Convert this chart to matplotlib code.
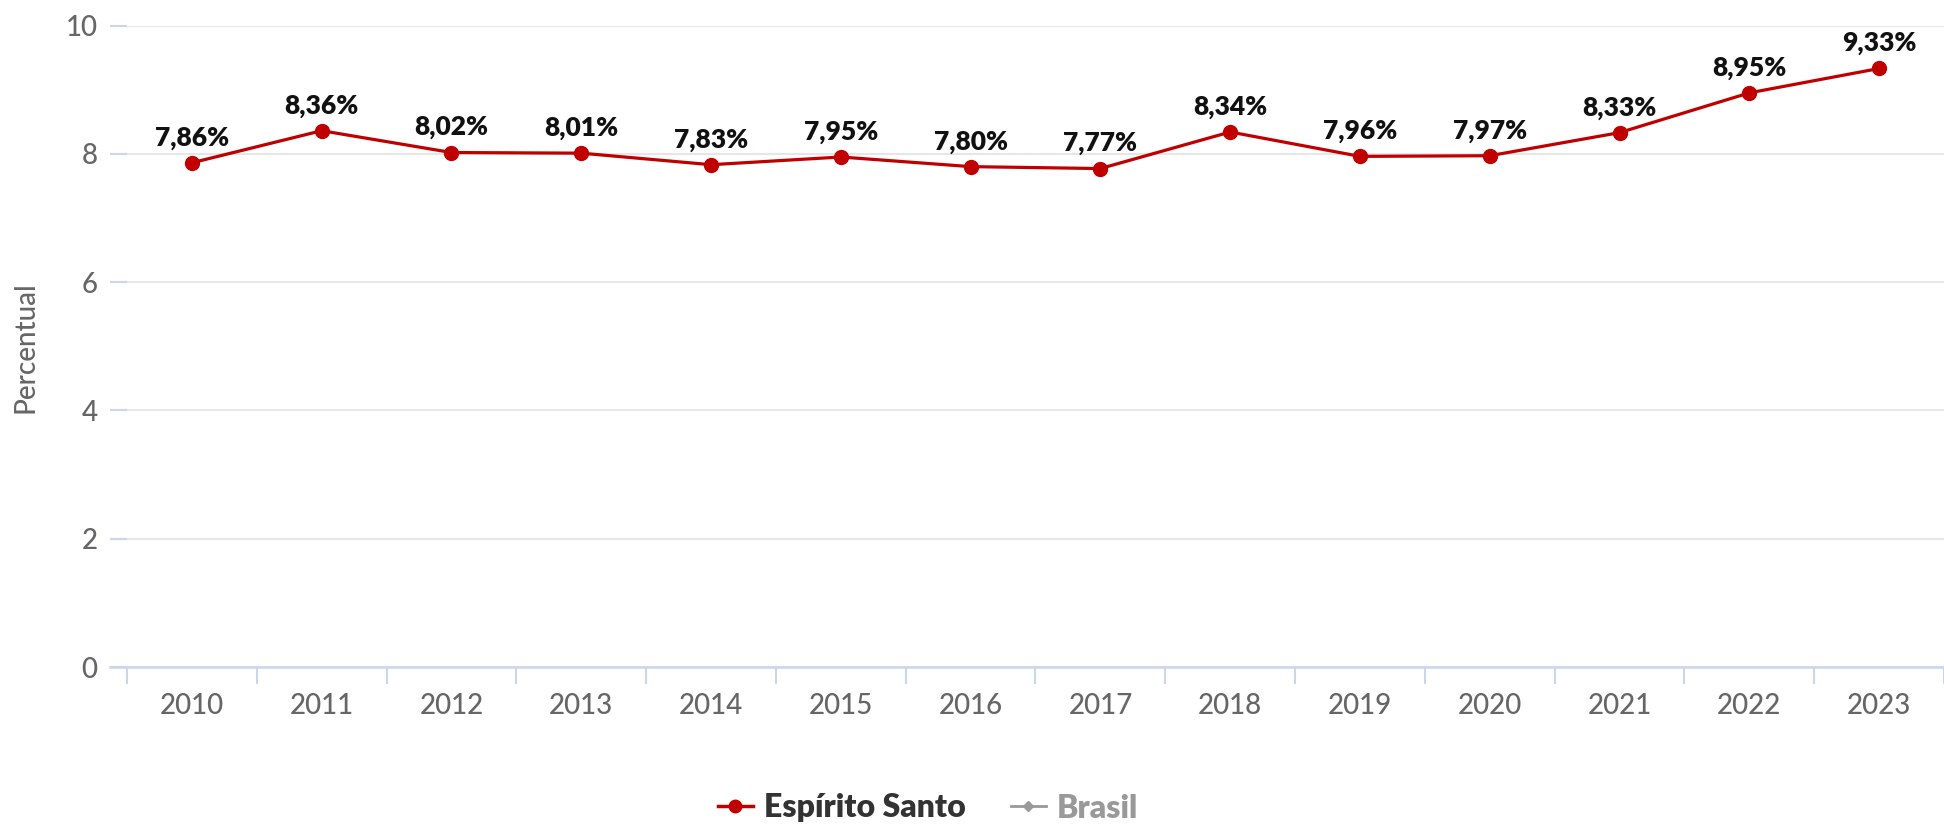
import numpy as np
import matplotlib
matplotlib.use("Agg")
import matplotlib.pyplot as plt
from matplotlib.lines import Line2D

plt.rcParams['font.family'] = ['Lato', 'DejaVu Sans']

anos = ['2010', '2011', '2012', '2013', '2014', '2015', '2016',
        '2017', '2018', '2019', '2020', '2021', '2022', '2023']
es_valores = [7.86, 8.36, 8.02, 8.01, 7.83, 7.95, 7.80,
              7.77, 8.34, 7.96, 7.97, 8.33, 8.95, 9.33]
y_ticks = [0, 2, 4, 6, 8, 10]

vermelho = '#c00000'
cinza_txt = '#666666'
eixo_cor = '#ccd6eb'
grade_cor = '#e6e6e6'

fig = plt.figure(figsize=(19.44, 8.26), dpi=100)
ax = fig.add_axes([110 / 1944, 1 - 667 / 826, 1 - 110 / 1944, (667 - 25.5) / 826])

x = np.arange(len(anos))
ax.plot(x, es_valores, '-o', color=vermelho, lw=2.3, markersize=10, zorder=3)

for xi, v in zip(x, es_valores):
    txt = f"{v:.2f}".replace('.', ',') + '%'
    ax.annotate(txt, (xi, v), xytext=(0, 12.5), textcoords='offset points',
                ha='center', va='baseline', fontsize=19, fontweight='heavy',
                color='#111111')

ax.set_xlim(-0.5 - 17 / 129.85, len(anos) - 0.5)
ax.set_ylim(0, 10)
ax.set_yticks(y_ticks)
ax.set_yticklabels([str(t) for t in y_ticks], fontweight='medium')
ax.tick_params(axis='y', length=12, width=1.5, direction='in', color=eixo_cor,
               labelsize=20, labelcolor=cinza_txt, pad=9)
ax.grid(axis='y', color=grade_cor, lw=1.5, zorder=0)

ax.set_xticks(x)
ax.set_xticklabels(anos, fontweight='medium')
ax.set_xticks(np.arange(-0.5, len(anos)), minor=True)
ax.tick_params(axis='x', which='major', length=0, labelsize=20,
               labelcolor=cinza_txt, pad=19)
ax.tick_params(axis='x', which='minor', length=12, width=1.5, color=eixo_cor)

for s in ['top', 'right', 'left']:
    ax.spines[s].set_visible(False)
ax.spines['bottom'].set_color(eixo_cor)
ax.spines['bottom'].set_linewidth(1.8)

fig.text(26 / 1944, 1 - 347 / 826, 'Percentual', rotation=90, ha='center',
         va='center', fontsize=20, fontweight='medium', color=cinza_txt)

handles = [
    Line2D([], [], color=vermelho, lw=2.5, marker='o', markersize=9),
    Line2D([], [], color='#999999', lw=2, marker='D', markersize=5),
]
leg = fig.legend(handles, ['Espírito Santo', 'Brasil'], loc='center',
                 bbox_to_anchor=(928 / 1944, 1 - 808 / 826), ncol=2,
                 frameon=False, handlelength=1.1, handletextpad=0.35,
                 columnspacing=1.4, prop={'size': 23, 'weight': 'heavy'})
leg.get_texts()[0].set_color('#333333')
leg.get_texts()[1].set_color('#999999')

fig.savefig('out.png', dpi=100, facecolor='white')
